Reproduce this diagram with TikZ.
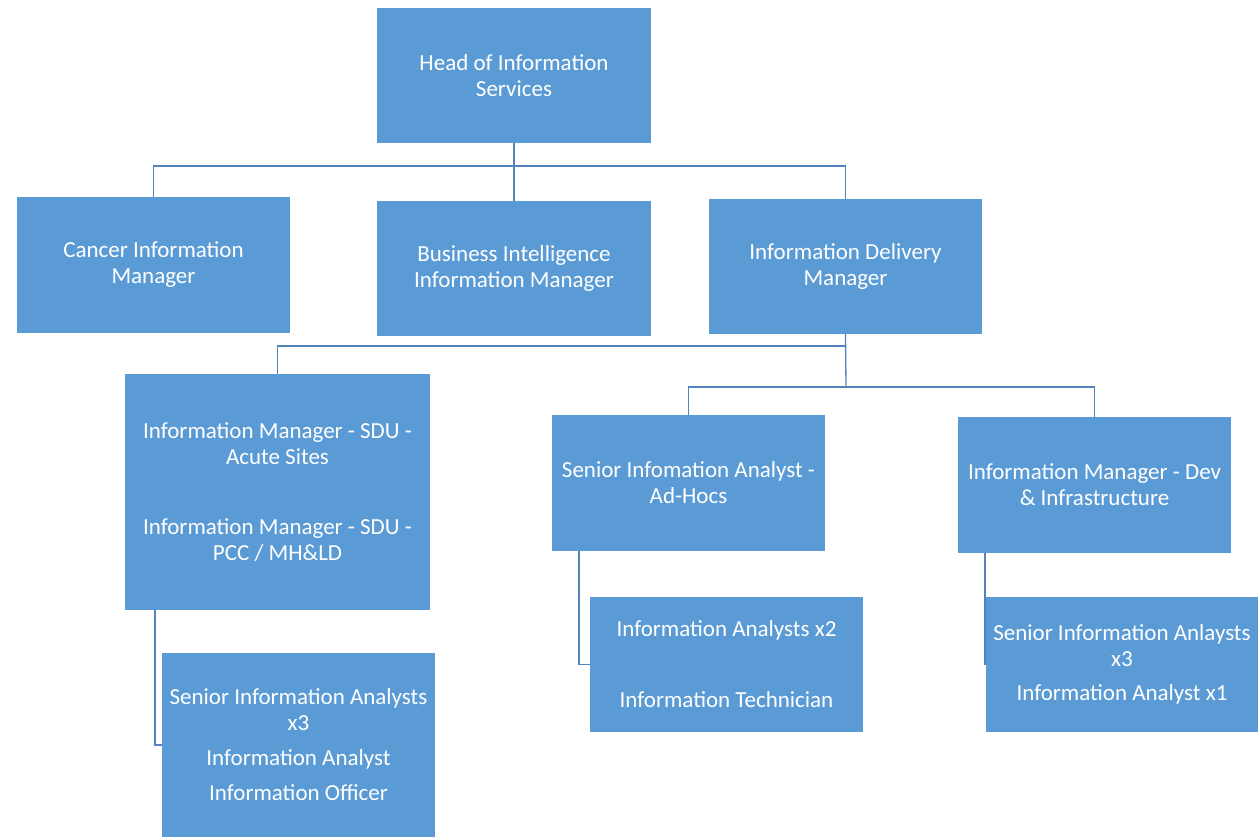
\documentclass[tikz,border=0pt]{standalone}
\usepackage{fontspec}
\setmainfont{Carlito}
\definecolor{boxblue}{HTML}{5B9BD5}
\definecolor{linkblue}{RGB}{84,132,190}
\begin{document}
\begin{tikzpicture}[x=1pt,y=-1pt,
  orgbox/.style={fill=boxblue,draw=none,inner sep=0pt,align=center,text=white,
    font=\fontsize{23}{26}\selectfont},
  link/.style={draw=linkblue,line width=1.3pt}]
\useasboundingbox (0,0) rectangle (1258,837);
\begin{scope}
\clip (0,0) rectangle (1258,837);
\node[orgbox,minimum width=274pt,minimum height=135pt] (head) at (514,75.5) {Head of Information\\Services};
\node[orgbox,minimum width=273pt,minimum height=136pt] (cancer) at (153.5,265) {Cancer Information\\Manager};
\node[orgbox,minimum width=274pt,minimum height=135pt] (bi) at (514,268.5) {Business Intelligence\\Information Manager};
\node[orgbox,minimum width=273pt,minimum height=135pt] (idm) at (845.5,266.5) {Information Delivery\\Manager};
\node[orgbox,minimum width=305pt,minimum height=236pt] (sdu) at (277.5,492) {Information Manager - SDU -\\Acute Sites\\[44pt]Information Manager - SDU -\\PCC / MH\&LD};
\node[orgbox,minimum width=273pt,minimum height=136pt] (adhoc) at (688.5,483) {Senior Infomation Analyst -\\Ad-Hocs};
\node[orgbox,minimum width=273pt,minimum height=136pt] (dev) at (1094.5,485) {Information Manager - Dev\\\& Infrastructure};
\node[orgbox,minimum width=273pt,minimum height=184pt] (sia) at (298.5,745) {Senior Information Analysts\\x3\\[9pt]Information Analyst\\[9pt]Information Officer};
\node[orgbox,minimum width=273pt,minimum height=135pt] (ia2) at (726.5,664.5) {Information Analysts x2\\[45pt]Information Technician};
\node[orgbox,minimum width=272pt,minimum height=135pt] (sia2) at (1122,664.5) {Senior Information Anlaysts\\x3\\[8pt]Information Analyst x1};
\end{scope}
\coordinate (j1) at (514,166);
\coordinate (j2) at (846,346);
\coordinate (j3) at (846,387);
\coordinate (c1) at (155,610);
\coordinate (c2) at (579,551);
\coordinate (c3) at (985,553);
\draw[link] (head.south) -- (bi.north);
\draw[link] (cancer.north) |- (j1) -| (idm.north);
\draw[link] (idm.south) -- (j3);
\draw[link] (sdu.north) |- (j2);
\draw[link] (adhoc.north) |- (j3) -| (dev.north);
\draw[link] (c1) |- (sia.west);
\draw[link] (c2) |- (ia2.west);
\draw[link] (c3) |- (sia2.west);
\end{tikzpicture}
\end{document}
